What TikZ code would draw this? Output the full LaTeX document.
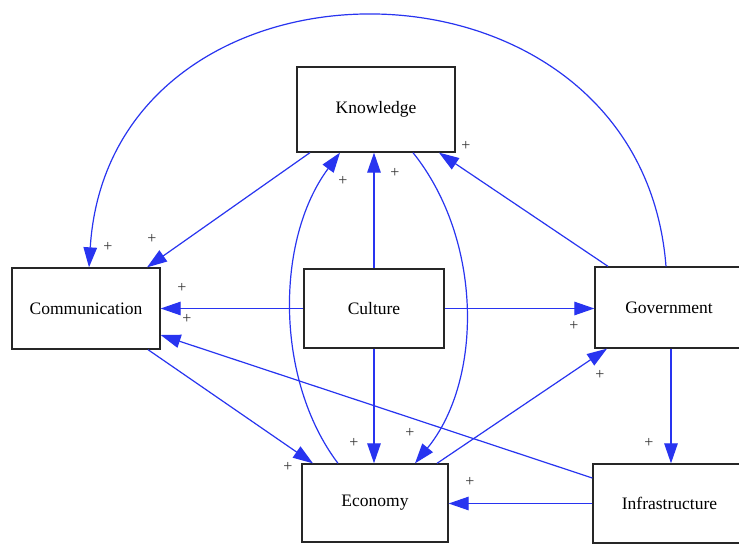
\documentclass[tikz,border=0pt]{standalone}
\usepackage{fontspec}
\setmainfont{Liberation Serif}
\usetikzlibrary{arrows.meta}
\definecolor{linkblue}{RGB}{40,52,240}
\begin{document}
\begin{tikzpicture}[x=1pt,y=-1pt,
  box/.style={draw=black!85, line width=1.3pt, fill=white, inner sep=0pt,
    font=\fontsize{17.5}{20}\selectfont},
  link/.style={draw=linkblue, line width=1.2pt,
    -{Triangle[length=20pt,width=13.5pt]}},
  sign/.style={font=\fontsize{16}{18}\selectfont, inner sep=0pt, text=black!80}]

% canvas
\clip (0,0) rectangle (739,545);
\fill[white] (0,0) rectangle (739,545);

% factors
\node[box, minimum width=158pt, minimum height=85pt] (know) at (376,109.5) {Knowledge};
\node[box, minimum width=148pt, minimum height=81pt] (comm) at (86,308.5) {Communication};
\node[box, minimum width=140pt, minimum height=79pt] (cult) at (374,308.5) {Culture};
\node[box, minimum width=148pt, minimum height=81pt] (gov) at (669,307.5) {Government};
\node[box, minimum width=146pt, minimum height=78pt] (econ) at (375,503) {Economy};
\node[box, minimum width=153pt, minimum height=79pt] (infra) at (669.5,503.5) {Infrastructure};

% influences
\draw[link] ([xshift=-66pt]know.south) -- ([xshift=61pt]comm.north);
\draw[link] ([xshift=-3pt]gov.north) .. controls (640,-67) and (110,-67) .. ([xshift=3pt]comm.north);
\draw[link] (cult.north) -- (cult.north |- know.south);
\draw[link] (cult.west) -- (comm.east);
\draw[link] (cult.east) -- (cult.east -| gov.west);
\draw[link] (cult.south) -- (cult.south |- econ.north);
\draw[link] ([xshift=-61pt]gov.north) -- ([xshift=63pt]know.south);
\draw[link] ([xshift=-37pt]econ.north) .. controls (275,380) and (275,240) .. ([xshift=-36pt]know.south);
\draw[link] ([xshift=37pt]know.south) .. controls (483,240) and (483,380) .. ([xshift=40pt]econ.north);
\draw[link] ([xshift=62pt]comm.south) -- ([xshift=-62pt]econ.north);
\draw[link] ([xshift=62pt]econ.north) -- ([xshift=-62pt]gov.south);
\draw[link] ([yshift=25.5pt]infra.west) -- ([yshift=-26.5pt]comm.east);
\draw[link] ([xshift=2pt]gov.south) -- ([xshift=2pt]gov.south |- infra.north);
\draw[link] (infra.west) -- (infra.west -| econ.east);

% polarity signs
\node[sign] (s1) at (108,247) {+};
\node[sign] (s2) at (152,239) {+};
\node[sign] (s3) at (182,288) {+};
\node[sign] (s4) at (187,319) {+};
\node[sign] (s5) at (343,181) {+};
\node[sign] (s6) at (395,173) {+};
\node[sign] (s7) at (466,146) {+};
\node[sign] (s8) at (574,326) {+};
\node[sign] (s9) at (600,375) {+};
\node[sign] (s10) at (288,467) {+};
\node[sign] (s11) at (354,443) {+};
\node[sign] (s12) at (410,433) {+};
\node[sign] (s13) at (649,443) {+};
\node[sign] (s14) at (470,482) {+};
\end{tikzpicture}
\end{document}
